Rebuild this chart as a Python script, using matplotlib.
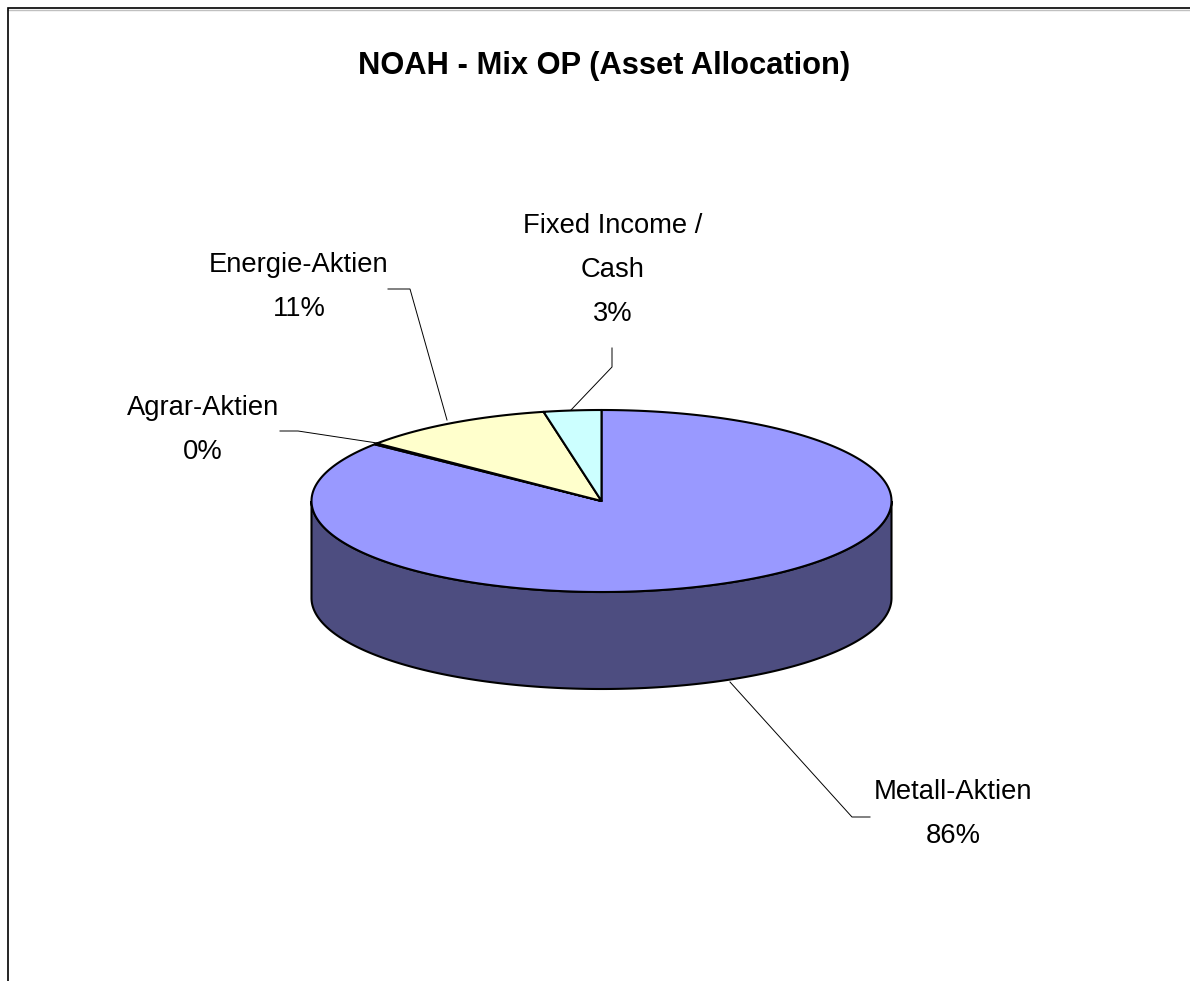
import numpy as np
import matplotlib
matplotlib.use("Agg")
import matplotlib.pyplot as plt

# Slice data
labels = ["Metall-Aktien", "Agrar-Aktien", "Energie-Aktien", "Fixed Income /\nCash"]
values = [85.7, 0.2, 10.9, 3.2]
pct_labels = ["86%", "0%", "11%", "3%"]
colors = ["#9999FF", "#9999FF", "#FFFFCC", "#CCFFFF"]
side_color = "#4D4D80"

# Label centres and leader lines, in picture pixels
label_pos = [(953, 814), (203, 430), (299, 287), (613, 270)]
leaders = [
    ([730, 852, 870], [682, 817, 817]),
    ([280, 298, 377], [431, 431, 443]),
    ([388, 410, 447], [289, 289, 420]),
    ([612, 612, 571], [348, 367, 410]),
]

cx, cy = 601.5, 501
rx, ry = 290, 91
depth = 97

fig = plt.figure(figsize=(11.9, 9.81), dpi=100)
ax = fig.add_axes([0, 0, 1, 1])
ax.set_xlim(0, 1190)
ax.set_ylim(981, 0)
ax.axis("off")
plt.rcParams["font.family"] = ["Liberation Sans", "DejaVu Sans"]

# Chart border, open at the right and bottom edges
ax.plot([1190, 8], [9.5, 9.5], color="#C0C0C0", lw=1)
ax.plot([8, 8, 1190], [981, 8, 8], color="black", lw=1.2, solid_joinstyle="miter")

# Side wall of the disc
t = np.linspace(0, np.pi, 300)
xs = cx + rx * np.cos(t)
ys = cy + ry * np.sin(t)
ax.fill(np.r_[xs, xs[::-1]], np.r_[ys, ys[::-1] + depth],
        facecolor=side_color, edgecolor="black", lw=1.5, zorder=2)

# Top slices, clockwise from 12 o'clock
start = 0.0
for value, color in zip(values, colors):
    end = start + value / sum(values) * 2 * np.pi
    a = np.linspace(start, end, 300)
    px = cx + rx * np.sin(a)
    py = cy - ry * np.cos(a)
    ax.fill(np.r_[cx, px], np.r_[cy, py], facecolor=color, edgecolor="black",
            lw=1.5, joinstyle="round", zorder=3)
    start = end

for (lx, ly) in leaders:
    ax.plot(lx, ly, color="black", lw=0.7, zorder=4)

for label, pct, (x, y) in zip(labels, pct_labels, label_pos):
    ax.text(x, y, f"{label}\n{pct}", ha="center", va="center", fontsize=19.7,
            linespacing=1.88, color="black", zorder=5)

ax.text(604, 66, "NOAH - Mix OP (Asset Allocation)", ha="center", va="center",
        fontsize=22.2, fontweight="bold", color="black")

fig.savefig("out.png", dpi=100, facecolor="white")
